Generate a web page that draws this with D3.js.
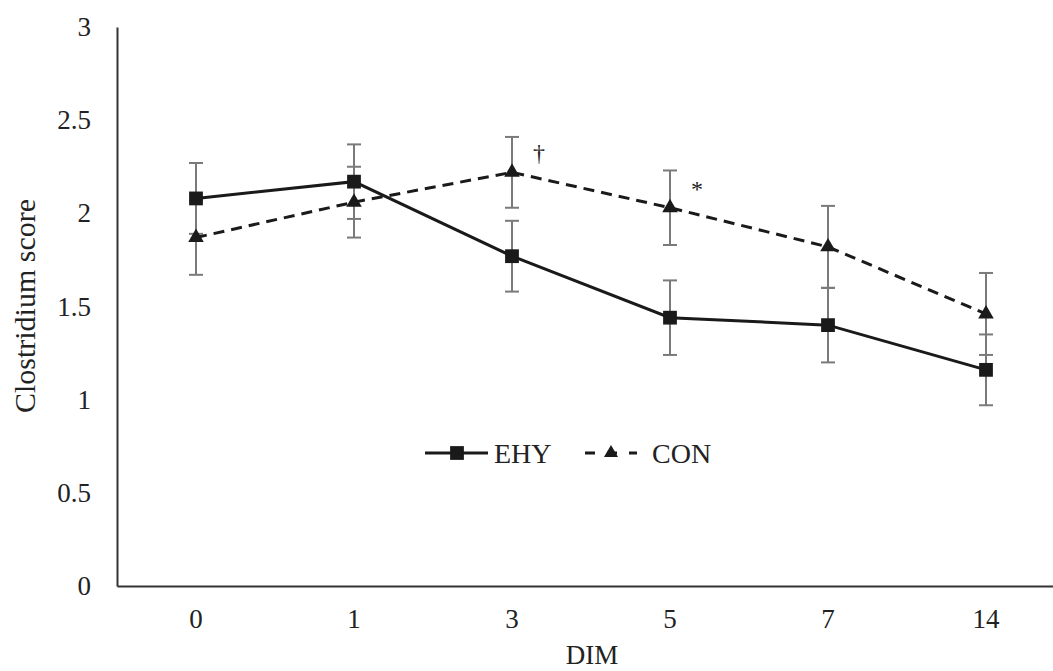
<!DOCTYPE html>
<html>
<head>
<meta charset="utf-8">
<script src="https://cdn.jsdelivr.net/npm/d3@7"></script>
<style>
  body { margin: 0; background: #fff; }
  text { font-family: "Liberation Serif", "Times New Roman", serif; fill: #222; }
</style>
</head>
<body>
<svg width="1053" height="671"></svg>
<script>
// data
let days = ["0", "1", "3", "5", "7", "14"];
let ehy = [2.08, 2.17, 1.77, 1.44, 1.40, 1.16];
let ehyErr = [0.19, 0.20, 0.19, 0.20, 0.20, 0.19];
let con = [1.87, 2.06, 2.22, 2.03, 1.82, 1.46];
let conErr = [0.20, 0.19, 0.19, 0.20, 0.22, 0.22];
let yTicks = [0, 0.5, 1, 1.5, 2, 2.5, 3];
let marks = [{ day: "3", y: 2.22, label: "\u2020" }, { day: "5", y: 2.03, label: "*" }];

let svg = d3.select("svg");

let scX = d3.scaleBand()
            .domain(days)
            .range([117, 1065]);
let scY = d3.scaleLinear()
            .domain([0, 3])
            .range([586, 27]);
let cx = d => scX(d) + scX.bandwidth() / 2;

// axes
let yAxis = svg.append("g")
  .attr("transform", "translate(117,0)")
  .call(d3.axisLeft(scY).tickValues(yTicks).tickSize(0).tickPadding(26)
          .tickFormat(d3.format("")));
yAxis.select(".domain").attr("stroke", "#333").attr("stroke-width", 2);
yAxis.selectAll("text").attr("font-size", 27);

let xAxis = svg.append("g")
  .attr("transform", "translate(0,586)")
  .call(d3.axisBottom(scX).tickSize(0).tickPadding(23));
xAxis.select(".domain").attr("stroke", "#333").attr("stroke-width", 2);
xAxis.selectAll("text").attr("font-size", 27);

svg.append("text")
  .attr("transform", "translate(35,306) rotate(-90)")
  .attr("text-anchor", "middle")
  .attr("font-size", 30)
  .text("Clostridium score");

svg.append("text")
  .attr("x", 592).attr("y", 664)
  .attr("text-anchor", "middle")
  .attr("font-size", 27)
  .text("DIM");

// error bars
function errorBars(vals, errs) {
  let g = svg.append("g").attr("stroke", "#7a7a7a").attr("stroke-width", 2);
  days.forEach((d, i) => {
    let x = cx(d);
    let top = scY(vals[i] + errs[i]);
    let bot = scY(vals[i] - errs[i]);
    g.append("line").attr("x1", x).attr("x2", x).attr("y1", top).attr("y2", bot);
    g.append("line").attr("x1", x - 7).attr("x2", x + 7).attr("y1", top).attr("y2", top);
    g.append("line").attr("x1", x - 7).attr("x2", x + 7).attr("y1", bot).attr("y2", bot);
  });
}
errorBars(con, conErr);
errorBars(ehy, ehyErr);

let lineMaker = d3.line()
                  .x((v, i) => cx(days[i]))
                  .y(v => scY(v));

svg.append("path")
  .attr("fill", "none").attr("stroke", "#1a1a1a")
  .attr("stroke-width", 3).attr("stroke-dasharray", "11,7")
  .attr("d", lineMaker(con));

svg.append("path")
  .attr("fill", "none").attr("stroke", "#1a1a1a")
  .attr("stroke-width", 3)
  .attr("d", lineMaker(ehy));

let square = d3.symbol().type(d3.symbolSquare).size(190);
let tri = d3.symbol().type(d3.symbolTriangle).size(105);

svg.append("g").selectAll("path")
  .data(con).enter().append("path")
  .attr("fill", "#1a1a1a")
  .attr("transform", (v, i) => `translate(${cx(days[i])},${scY(v)})`)
  .attr("d", tri);

svg.append("g").selectAll("path")
  .data(ehy).enter().append("path")
  .attr("fill", "#1a1a1a")
  .attr("transform", (v, i) => `translate(${cx(days[i])},${scY(v)})`)
  .attr("d", square);

// significance marks
svg.append("g").selectAll("text")
  .data(marks).enter().append("text")
  .attr("x", d => cx(d.day) + 27)
  .attr("y", d => scY(d.y) - 11)
  .attr("font-size", 24)
  .attr("text-anchor", "middle")
  .text(d => d.label);

// legend
let lg = svg.append("g").attr("transform", "translate(0,453)");
lg.append("line").attr("x1", 425).attr("x2", 488).attr("y1", 0).attr("y2", 0)
  .attr("stroke", "#1a1a1a").attr("stroke-width", 3);
lg.append("path").attr("transform", "translate(457,0)").attr("fill", "#1a1a1a").attr("d", square);
lg.append("text").attr("x", 494).attr("y", 10).attr("font-size", 28).text("EHY");

lg.append("line").attr("x1", 585).attr("x2", 637).attr("y1", 0).attr("y2", 0)
  .attr("stroke", "#1a1a1a").attr("stroke-width", 3).attr("stroke-dasharray", "10,12");
lg.append("path").attr("transform", "translate(611,0)").attr("fill", "#1a1a1a")
  .attr("d", d3.symbol().type(d3.symbolTriangle).size(85));
lg.append("text").attr("x", 652).attr("y", 10).attr("font-size", 28).text("CON");
</script>
</body>
</html>
